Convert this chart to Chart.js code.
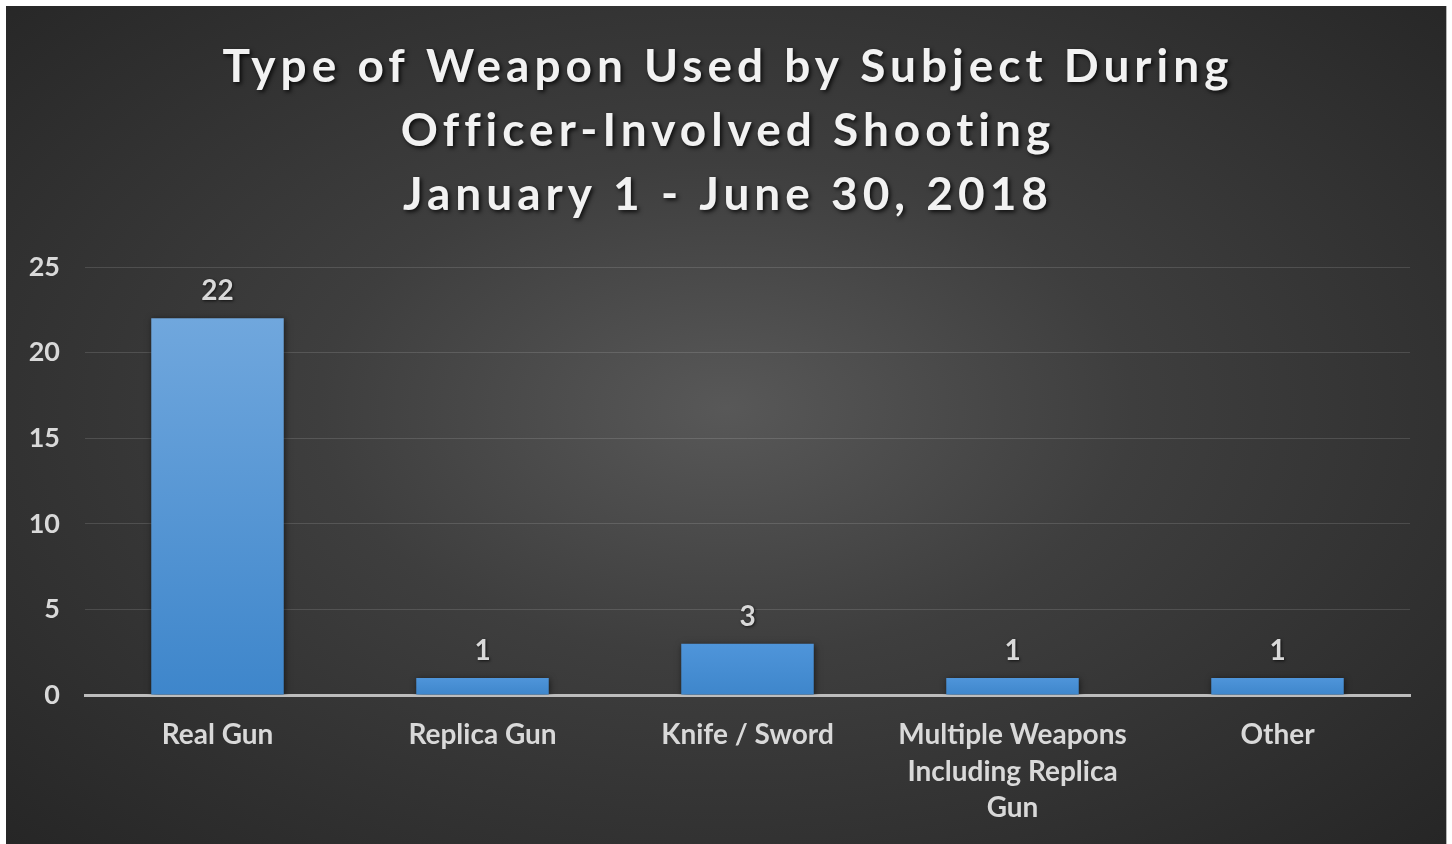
<!DOCTYPE html>
<html>
<head>
<meta charset="utf-8">
<script src="https://cdn.jsdelivr.net/npm/chart.js@4/dist/chart.umd.min.js"></script>
<style>
  html, body { margin: 0; padding: 0; background: #fff; }
  #panel {
    position: absolute; left: 6px; top: 6px; width: 1440px; height: 838px;
    background: radial-gradient(ellipse farthest-corner at 50% 48%, #585858 0%, #3e3e3e 40%, #262626 100%);
    border-right: 1px solid #b5b5b5;
  }
</style>
</head>
<body>
<div id="panel"><canvas id="weaponChart"></canvas></div>
<script>
// data
const titleLines = ['Type of Weapon Used by Subject During', 'Officer-Involved Shooting', 'January 1 - June 30, 2018'];
const categories = ['Real Gun', 'Replica Gun', 'Knife / Sword', ['Multiple Weapons', 'Including Replica', 'Gun'], 'Other'];
const counts = [22, 1, 3, 1, 1];
const yMin = 0, yMax = 25, yStep = 5;

const labelFont = 'Lato';
const textGray = '#d9d9d9';

// title drawn with letter spacing + shadow (office style)
const titleBlock = {
  id: 'titleBlock',
  afterDraw(chart) {
    const c = chart.ctx;
    c.save();
    c.font = 'bold 46px ' + labelFont;
    c.letterSpacing = '5px';
    c.fillStyle = '#f2f2f2';
    c.textAlign = 'center';
    c.textBaseline = 'middle';
    c.shadowColor = 'rgba(0,0,0,0.8)';
    c.shadowBlur = 4;
    c.shadowOffsetX = 2;
    c.shadowOffsetY = 2;
    titleLines.forEach((t, i) => c.fillText(t, chart.width / 2 + 2, 61 + i * 64));
    c.restore();
  }
};

// values above the bars
const barValues = {
  id: 'barValues',
  beforeDatasetsDraw(chart) {
    const c = chart.ctx;
    c.save();
    c.shadowColor = 'rgba(0,0,0,0.55)';
    c.shadowBlur = 6;
    c.shadowOffsetX = 1;
    c.shadowOffsetY = 1;
  },
  afterDatasetsDraw(chart) {
    const c = chart.ctx;
    c.restore();
    c.save();
    c.font = 'bold 28px ' + labelFont;
    c.fillStyle = textGray;
    c.textAlign = 'center';
    c.textBaseline = 'middle';
    c.shadowColor = 'rgba(0,0,0,0.7)';
    c.shadowBlur = 3;
    c.shadowOffsetX = 1;
    c.shadowOffsetY = 1;
    const meta = chart.getDatasetMeta(0);
    meta.data.forEach((bar, i) => {
      c.fillText(String(counts[i]), bar.x, bar.y - 27);
    });
    c.restore();
  }
};

function barFill(context) {
  const chart = context.chart;
  const y = chart.scales.y;
  const v = context.raw;
  if (!y || !chart.chartArea) return '#4a90d9';
  const top = y.getPixelForValue(v);
  const base = y.getPixelForValue(0);
  if (!isFinite(top) || !isFinite(base) || top === base) return '#4a90d9';
  const g = chart.ctx.createLinearGradient(0, top, 0, base);
  g.addColorStop(0, v > 5 ? '#70a7dd' : '#4f95da');
  g.addColorStop(1, '#3e86cb');
  return g;
}

new Chart(document.getElementById('weaponChart'), {
  type: 'bar',
  data: {
    labels: categories,
    datasets: [{
      data: counts,
      backgroundColor: barFill,
      borderWidth: 0,
      categoryPercentage: 1,
      barPercentage: 0.5
    }]
  },
  options: {
    responsive: true,
    maintainAspectRatio: false,
    animation: false,
    layout: { padding: { top: 261, right: 36, left: 0, bottom: 0 } },
    plugins: {
      legend: { display: false },
      tooltip: { enabled: false }
    },
    scales: {
      x: {
        grid: { display: false, drawTicks: false },
        border: { display: true, color: '#bdbdbd', width: 3 },
        ticks: {
          color: textGray,
          font: { family: labelFont, size: 28, weight: 'bold', lineHeight: 1.3 },
          padding: 22,
          maxRotation: 0
        },
        afterFit(scale) { scale.height = 149; }
      },
      y: {
        min: yMin,
        max: yMax,
        grid: {
          color: ctx => ctx.tick && ctx.tick.value === 0 ? 'rgba(0,0,0,0)' : 'rgba(255,255,255,0.13)',
          lineWidth: 1,
          drawTicks: false
        },
        border: { display: false },
        ticks: {
          stepSize: yStep,
          color: textGray,
          font: { family: labelFont, size: 27, weight: 'bold' },
          padding: 25
        },
        afterFit(scale) { scale.width = 79; }
      }
    }
  },
  plugins: [barValues, titleBlock]
});
</script>
</body>
</html>
